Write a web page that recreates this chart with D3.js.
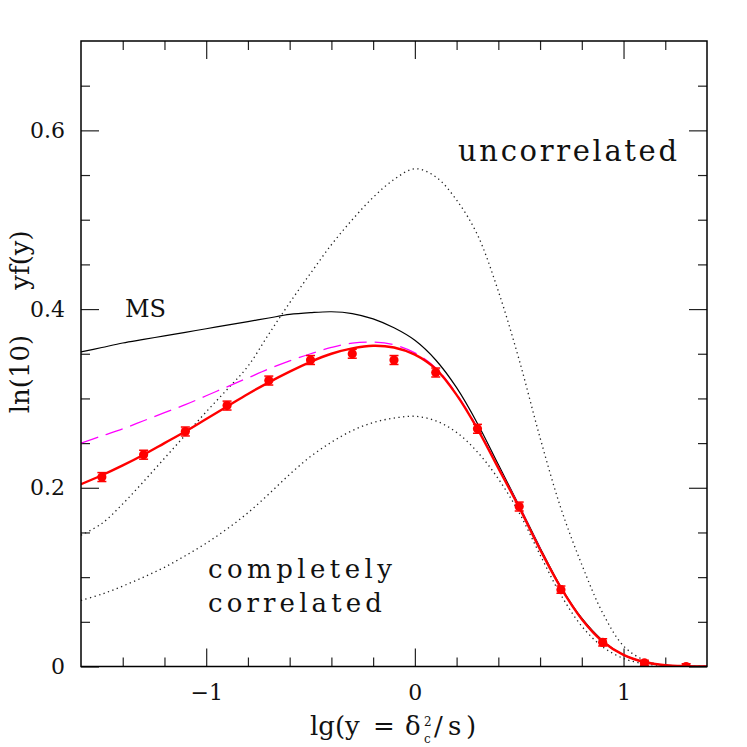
<!DOCTYPE html>
<html><head><meta charset="utf-8">
<script src="https://cdn.jsdelivr.net/npm/d3@7"></script>
<style>body{margin:0;background:#fff}svg{display:block}text{font-family:"DejaVu Serif",serif;fill:#111}</style>
</head><body><svg id="c" width="747" height="747"></svg>
<script>
// ---- data ----
const xGrid = [-1.6,-1.5,-1.4,-1.3,-1.2,-1.1,-1.0,-0.9,-0.8,-0.7,-0.6,-0.5,-0.4,-0.3,-0.2,-0.1,0.0,0.1,0.2,0.3,0.4,0.5,0.6,0.7,0.8,0.9,1.0,1.1,1.2,1.3,1.4];
const msY      = [0.352,0.357,0.362,0.366,0.370,0.374,0.378,0.382,0.386,0.390,0.394,0.396,0.397,0.395,0.389,0.379,0.365,0.343,0.312,0.272,0.226,0.180,0.133,0.089,0.054,0.029,0.013,0.005,0.0015,0.0004,0.0001];
const fitY     = [0.204,0.214,0.225,0.237,0.250,0.263,0.277,0.291,0.305,0.318,0.330,0.341,0.350,0.356,0.359,0.357,0.349,0.333,0.304,0.266,0.222,0.178,0.131,0.088,0.053,0.028,0.013,0.005,0.0015,0.0004,0.0001];
const magY     = [0.250,0.258,0.266,0.275,0.284,0.293,0.303,0.313,0.323,0.333,0.342,0.350,0.357,0.362,0.363,0.360,0.351,0.334,0.305,0.267,0.223,0.179,0.132,0.088,0.053,0.028,0.013,0.005,0.0015,0.0004,0.0001];
const uncorrY  = [0.147,0.160,0.182,0.207,0.233,0.259,0.285,0.310,0.336,0.372,0.407,0.440,0.472,0.500,0.525,0.545,0.557,0.548,0.522,0.483,0.420,0.343,0.256,0.177,0.114,0.060,0.023,0.007,0.0015,0.0002,0.0];
const corrY    = [0.074,0.081,0.090,0.100,0.111,0.124,0.138,0.154,0.172,0.193,0.215,0.235,0.251,0.264,0.273,0.278,0.280,0.275,0.262,0.240,0.210,0.172,0.125,0.080,0.045,0.022,0.009,0.003,0.001,0.0002,0.0];
const pointX   = [-1.5,-1.3,-1.1,-0.9,-0.7,-0.5,-0.3,-0.1,0.1,0.3,0.5,0.7,0.9,1.1,1.3];
const pointY   = [0.212,0.237,0.263,0.292,0.320,0.343,0.350,0.343,0.329,0.266,0.179,0.086,0.027,0.004,0.000];
const pointErr = [0.005,0.005,0.005,0.005,0.005,0.005,0.005,0.005,0.005,0.005,0.005,0.004,0.004,0.003,0.003];
const xMajor = [-1,0,1];
const xMinor = [-1.4,-1.2,-0.8,-0.6,-0.4,-0.2,0.2,0.4,0.6,0.8,1.2];
const yMajor = [0,0.2,0.4,0.6];
const yMinor = [0.05,0.1,0.15,0.25,0.3,0.35,0.45,0.5,0.55,0.65];
const yTickLabels = ["0","0.2","0.4","0.6"];

// ---- chart ----
const L=81, R=707, T=41, B=666.5;
const x = d3.scaleLinear().domain([-1.6,1.4]).range([L,R]);
const y = d3.scaleLinear().domain([0,0.7]).range([B,T]);
const svg = d3.select('#c');

svg.append('defs').append('clipPath').attr('id','clip')
  .append('rect').attr('x',L).attr('y',T).attr('width',R-L).attr('height',B-T);

function styleAxis(a){
  a.select('.domain').remove();
  a.selectAll('line').attr('stroke','#222').attr('stroke-width',1.2);
  a.selectAll('text').attr('font-family','DejaVu Serif').attr('font-size',22).attr('fill','#111');
  return a;
}
// bottom
styleAxis(svg.append('g').attr('transform',`translate(0,${B})`)
  .call(d3.axisBottom(x).tickValues(xMajor).tickSize(-18).tickPadding(18).tickFormat(d3.format('d'))));
styleAxis(svg.append('g').attr('transform',`translate(0,${B})`)
  .call(d3.axisBottom(x).tickValues(xMinor).tickSize(-9).tickFormat('')));
// top
styleAxis(svg.append('g').attr('transform',`translate(0,${T})`)
  .call(d3.axisTop(x).tickValues(xMajor).tickSize(-18).tickFormat('')));
styleAxis(svg.append('g').attr('transform',`translate(0,${T})`)
  .call(d3.axisTop(x).tickValues(xMinor).tickSize(-9).tickFormat('')));
// left
styleAxis(svg.append('g').attr('transform',`translate(${L},0)`)
  .call(d3.axisLeft(y).tickValues(yMajor).tickSize(-18).tickPadding(16).tickFormat((d,i)=>yTickLabels[i])));
styleAxis(svg.append('g').attr('transform',`translate(${L},0)`)
  .call(d3.axisLeft(y).tickValues(yMinor).tickSize(-9).tickFormat('')));
// right
styleAxis(svg.append('g').attr('transform',`translate(${R},0)`)
  .call(d3.axisRight(y).tickValues(yMajor).tickSize(-18).tickFormat('')));
styleAxis(svg.append('g').attr('transform',`translate(${R},0)`)
  .call(d3.axisRight(y).tickValues(yMinor).tickSize(-9).tickFormat('')));

// curves
const plot = svg.append('g').attr('clip-path','url(#clip)');
const line = d3.line().x((d,i)=>x(xGrid[i])).y(d=>y(d)).curve(d3.curveCatmullRom.alpha(0.5));
plot.append('path').datum(uncorrY).attr('d',line).attr('fill','none').attr('stroke','#222').attr('stroke-width',1.3).attr('stroke-dasharray','1.3,3.4');
plot.append('path').datum(corrY).attr('d',line).attr('fill','none').attr('stroke','#222').attr('stroke-width',1.3).attr('stroke-dasharray','1.3,3.4');
plot.append('path').datum(msY).attr('d',line).attr('fill','none').attr('stroke','#000').attr('stroke-width',1.2);
plot.append('path').datum(magY).attr('d',line).attr('fill','none').attr('stroke','#ff00ff').attr('stroke-width',1.3).attr('stroke-dasharray','18,8');
plot.append('path').datum(fitY).attr('d',line).attr('fill','none').attr('stroke','#ff0000').attr('stroke-width',2.4);

// points with error bars
const pts = plot.append('g');
pointX.forEach((px,i)=>{
  const cx=x(px), y0=y(pointY[i]-pointErr[i]), y1=y(pointY[i]+pointErr[i]);
  pts.append('line').attr('x1',cx).attr('x2',cx).attr('y1',y0).attr('y2',y1).attr('stroke','#ff0000').attr('stroke-width',2);
  pts.append('line').attr('x1',cx-4.5).attr('x2',cx+4.5).attr('y1',y0).attr('y2',y0).attr('stroke','#ff0000').attr('stroke-width',1.5);
  pts.append('line').attr('x1',cx-4.5).attr('x2',cx+4.5).attr('y1',y1).attr('y2',y1).attr('stroke','#ff0000').attr('stroke-width',1.5);
  pts.append('circle').attr('cx',cx).attr('cy',y(pointY[i])).attr('r',4.6).attr('fill','#ff0000');
});

// frame
svg.append('rect').attr('x',L).attr('y',T).attr('width',R-L).attr('height',B-T)
  .attr('fill','none').attr('stroke','#000').attr('stroke-width',1.5);

// annotations
function txt(s,xx,yy,size,len){
  const t=svg.append('text').attr('x',xx).attr('y',yy).attr('font-size',size).text(s);
  if(len) t.attr('textLength',len).attr('lengthAdjust','spacing');
  return t;
}
txt('uncorrelated',458,161,29,219);
txt('MS',125,317,24,41);
txt('completely',208,578,26,184);
txt('correlated',208,612,26,174);

// x-axis title
txt('lg(y',310,735,26);
txt('=',373,735,26);
txt('δ',405,735,26);
txt('2',424,726,12);
txt('c',424,743,12);
txt('/',434,735,26);
txt('s',448,735,26);
txt(')',466,735,26);

// y-axis title
svg.append('text').attr('transform','translate(29,374) rotate(-90)').attr('text-anchor','middle').attr('font-size',26).text('ln(10)');
svg.append('text').attr('transform','translate(29,260) rotate(-90)').attr('text-anchor','middle').attr('font-size',26).text('yf(y)');
</script></body></html>
